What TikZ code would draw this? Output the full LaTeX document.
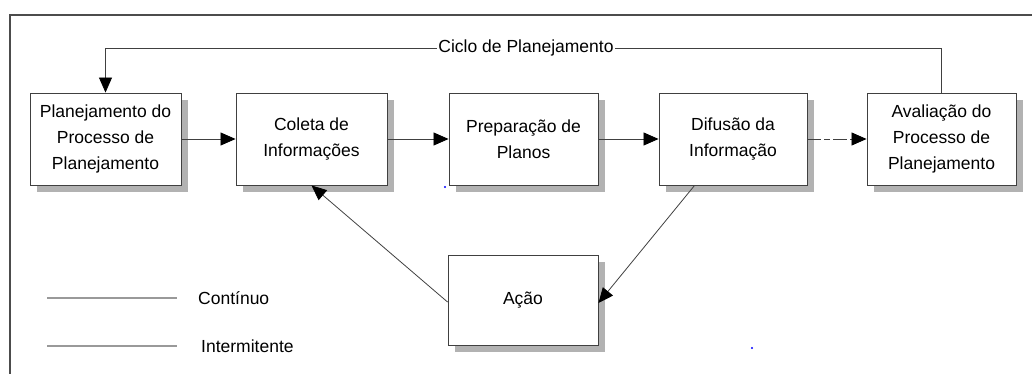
\documentclass[tikz,border=0pt]{standalone}
\usepackage{fontspec}
\setmainfont{Liberation Sans}
\usetikzlibrary{arrows.meta,backgrounds,calc}
\begin{document}
\begin{tikzpicture}[x=1pt,y=-1pt,
  lbl/.style={font=\fontsize{17.5}{25.7}\selectfont, text=black},
  box/.style={lbl, draw=black!75, line width=0.9pt, fill=white, minimum width=151pt, minimum height=92pt,
    align=center, inner sep=0pt},
  shadowbox/.style={fill=black!30},
  arr/.style={draw=black!75, line width=0.8pt, -{Triangle[length=15pt,width=13pt,black]}},
  legline/.style={draw=black!40, line width=1.6pt}
]
\useasboundingbox (0,0) rectangle (1032,374);
% outer frame
\draw[line width=1.6pt, black!70] (10,374) -- (10,15) -- (1032,15);

% boxes
\node[box] (b1) at (105.5,139) {Planejamento do\\Processo de\\Planejamento};
\node[box] (b2) at (311.5,139) {Coleta de\\Informações};
\node[box, minimum width=149pt] (b3) at (523.5,139) {Preparação de\\Planos};
\node[box, minimum width=148pt] (b4) at (733,139) {Difusão da\\Informação};
\node[box, minimum width=149pt] (b5) at (941.5,139) {Avaliação do\\Processo de\\Planejamento};
\node[box, minimum width=150pt, minimum height=90pt] (act) at (523,300) {Ação};

% shadows
\begin{scope}[on background layer]
  \foreach \n in {b1,b2,b3,b4,b5,act}
    \fill[shadowbox] ($(\n.south west)+(7,7)$) rectangle ($(\n.north east)+(7,7)$);
\end{scope}

% cycle
\coordinate (cy) at (0,48);
\draw[arr] (b5.north) -- (b5.north |- cy) -| (b1.north);
\node[lbl, fill=white, inner sep=1pt] (cyl) at (526,48) {Ciclo de Planejamento};

% main flow
\draw[arr] (b1) -- (b2);
\draw[arr] (b2) -- (b3);
\draw[arr] (b3) -- (b4);
\draw[arr, dash pattern=on 14pt off 3pt on 6pt off 3pt] (b4) -- (b5);

% loop through action
\coordinate (d1) at ($(b4.south west)+(36,0)$);
\draw[arr] (d1) -- ([yshift=-3pt]act.east);
\draw[arr] ([yshift=-2pt]act.west) -- (b2.south);

% legend
\coordinate (l1a) at (47,298);
\coordinate (l1b) at (177,298);
\coordinate (l2a) at (47,346);
\coordinate (l2b) at (177,346);
\draw[legline] (l1a) -- (l1b);
\draw[legline] (l2a) -- (l2b);
\node[lbl, anchor=west, inner sep=0pt] (t1) at (198,298) {Contínuo};
\node[lbl, anchor=west, inner sep=0pt] (t2) at (201,346) {Intermitente};

% stray dots
\fill[blue] (445,187) circle (1.2pt);
\fill[blue] (752,348) circle (1.2pt);
\end{tikzpicture}
\end{document}
